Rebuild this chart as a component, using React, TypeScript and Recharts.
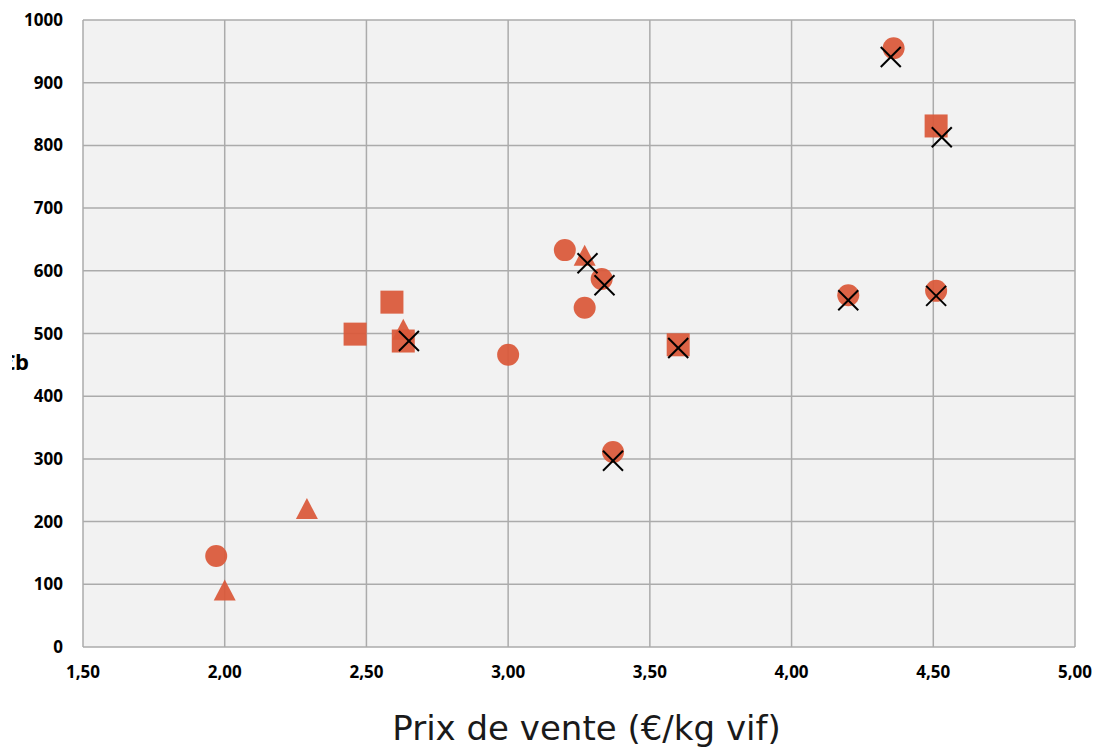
import React from 'react';
import { ScatterChart, Scatter, XAxis, YAxis, CartesianGrid } from 'recharts';

// Prix de vente (€/kg vif) / valeurs
const circleX = [1.97, 3.0, 3.2, 3.27, 3.33, 3.37, 4.2, 4.51, 4.36];
const circleY = [145, 466, 633, 541, 587, 311, 561, 568, 955];

const squareX = [2.46, 2.59, 2.63, 3.6, 4.51];
const squareY = [499, 550, 488, 482, 831];

const triangleX = [2.0, 2.29, 2.63, 3.27];
const triangleY = [90, 220, 506, 624];

const crossX = [2.65, 3.28, 3.34, 3.37, 3.6, 4.2, 4.51, 4.35, 4.53];
const crossY = [488, 612, 577, 297, 477, 553, 560, 941, 813];

const xTicks = [1.5, 2.0, 2.5, 3.0, 3.5, 4.0, 4.5, 5.0];
const yTicks = [0, 100, 200, 300, 400, 500, 600, 700, 800, 900, 1000];

const toPoints = (xs: number[], ys: number[]) => xs.map((x, i) => ({ x, y: ys[i] }));

const ORANGE = '#DA5839';

const CircleShape = (p: any) => (
  <circle cx={p.cx} cy={p.cy} r={11} fill={ORANGE} fillOpacity={0.93} />
);
const SquareShape = (p: any) => (
  <rect x={p.cx - 11.5} y={p.cy - 11.5} width={23} height={23} fill={ORANGE} fillOpacity={0.93} />
);
const TriangleShape = (p: any) => (
  <polygon
    points={`${p.cx},${p.cy - 11} ${p.cx + 11},${p.cy + 10} ${p.cx - 11},${p.cy + 10}`}
    fill={ORANGE}
    fillOpacity={0.93}
  />
);
const CrossShape = (p: any) => (
  <g stroke="#000" strokeWidth={2}>
    <line x1={p.cx - 10} y1={p.cy - 10} x2={p.cx + 10} y2={p.cy + 10} />
    <line x1={p.cx - 10} y1={p.cy + 10} x2={p.cx + 10} y2={p.cy - 10} />
  </g>
);

const tickStyle = { fill: '#000', fontFamily: 'Open Sans', fontWeight: 700, fontSize: 17 };

export default function App() {
  return (
    <div style={{ position: 'absolute', left: 0, top: 0, width: 1095, height: 749, background: '#fff', overflow: 'hidden' }}>
      <ScatterChart width={1095} height={749} margin={{ top: 20, right: 20, left: 0, bottom: 0 }}>
        <CartesianGrid fill="#f2f2f2" stroke="#ababab" strokeWidth={1.5} />
        <XAxis
          type="number"
          dataKey="x"
          domain={[1.5, 5]}
          ticks={xTicks}
          height={102}
          tickSize={0}
          tickMargin={19}
          axisLine={false}
          tick={tickStyle}
          tickFormatter={(v: number) => v.toFixed(2).replace('.', ',')}
        />
        <YAxis
          type="number"
          dataKey="y"
          domain={[0, 1000]}
          ticks={yTicks}
          width={83}
          tickSize={0}
          tickMargin={20}
          axisLine={false}
          tick={tickStyle}
        />
        <Scatter data={toPoints(circleX, circleY)} shape={CircleShape} isAnimationActive={false} />
        <Scatter data={toPoints(squareX, squareY)} shape={SquareShape} isAnimationActive={false} />
        <Scatter data={toPoints(triangleX, triangleY)} shape={TriangleShape} isAnimationActive={false} />
        <Scatter data={toPoints(crossX, crossY)} shape={CrossShape} isAnimationActive={false} />
      </ScatterChart>
      <div
        style={{
          position: 'absolute',
          left: 0,
          width: 1173,
          top: 711,
          lineHeight: '34px',
          textAlign: 'center',
          fontFamily: 'DejaVu Sans',
          fontSize: 34,
          color: '#1a1a1a',
          whiteSpace: 'nowrap',
        }}
      >
        Prix de vente (€/kg vif)
      </div>
      <div style={{ position: 'absolute', left: 12, top: 346, width: 17, height: 32, overflow: 'hidden' }}>
        <span
          style={{
            position: 'absolute',
            right: 0,
            top: 0,
            whiteSpace: 'nowrap',
            fontFamily: 'Open Sans',
            fontWeight: 700,
            fontSize: 22,
            color: '#000',
          }}
        >
          €b
        </span>
      </div>
    </div>
  );
}
